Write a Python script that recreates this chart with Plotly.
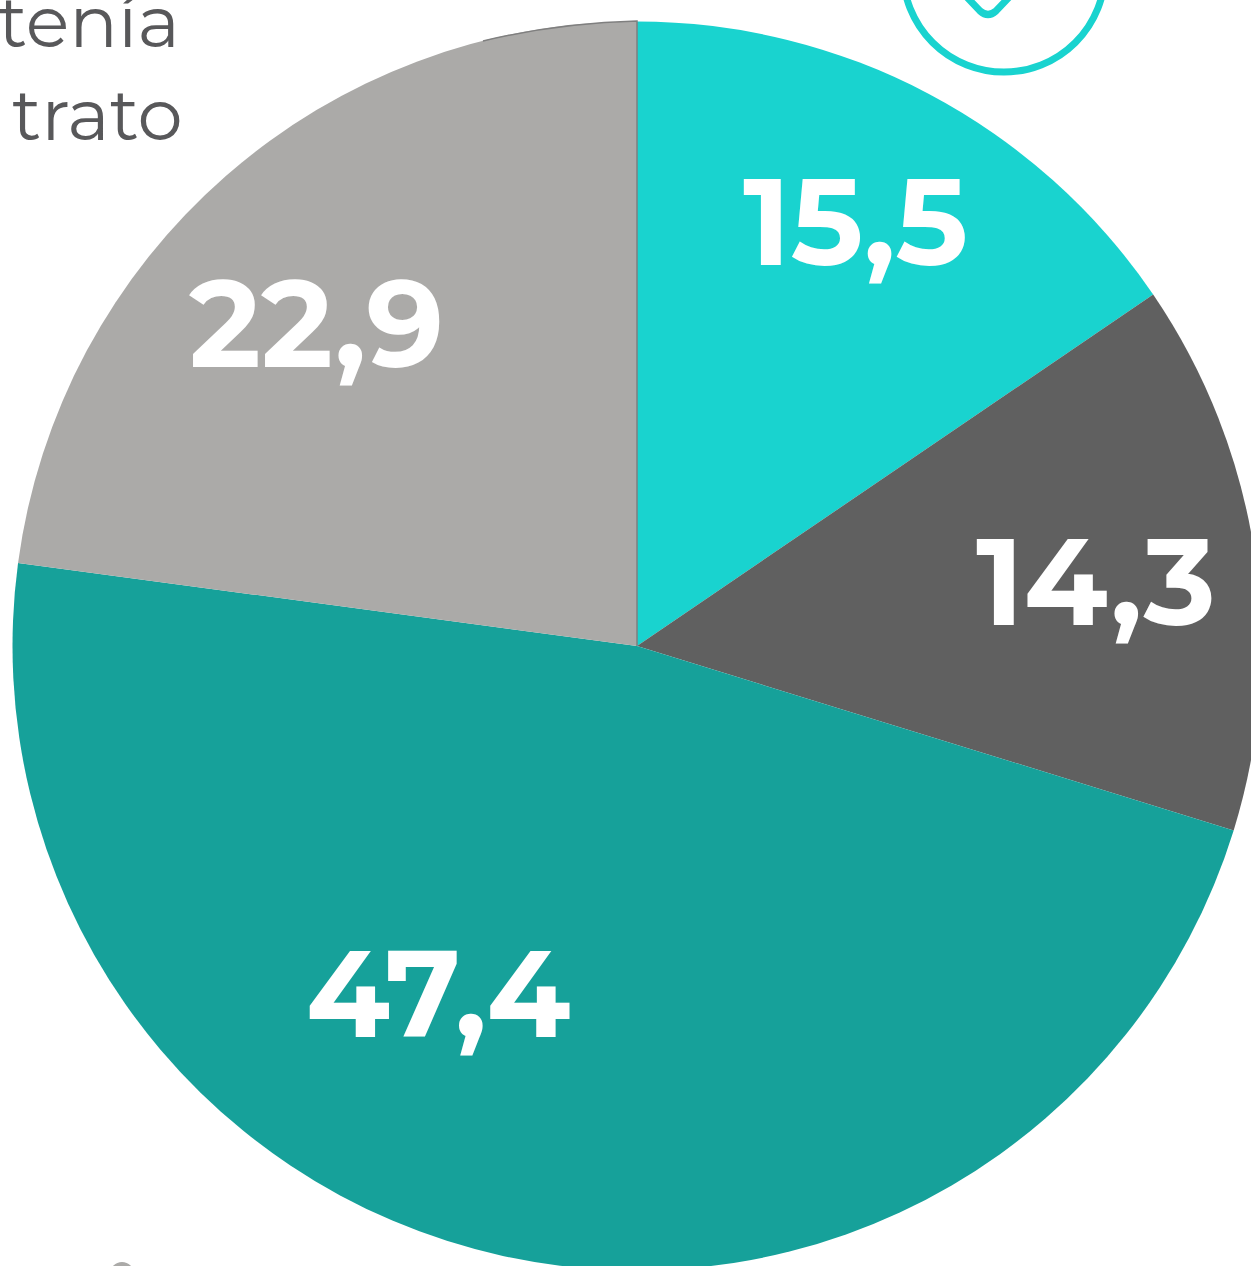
import plotly.graph_objects as go

labels = ["Segmento 1", "Segmento 2", "Segmento 3", "Segmento 4"]
values = [15.5, 14.3, 47.4, 22.9]
texts = ["15,5", "14,3", "47,4", "22,9"]
colors = ["#19D3CF", "#606060", "#16A19A", "#ABAAA8"]
fragments = ["tenía", "trato"]

# The pie runs past the window's right and bottom edges, so the canvas is
# larger than the window and the page clips it.
W, H = 1300, 1300
cx, cy, r = 637, 646, 624.5
TEAL = "#19D3CF"
GREY = "#58585A"

def px(x):
    return x / W

def py(y):
    return 1 - y / H

fig = go.Figure(go.Pie(
    labels=labels, values=values, sort=False, direction="clockwise", rotation=0,
    marker=dict(colors=colors, line=dict(width=0)),
    text=texts, textinfo="none", showlegend=False, hoverinfo="label+text",
    domain=dict(x=[px(cx - r), px(cx + r)], y=[py(cy + r), py(cy - r)]),
))

value_pos = [(855, 221), (1096, 581), (438, 993), (316, 323)]
anns = [dict(text=t, x=px(x), y=py(y), xref="paper", yref="paper", showarrow=False,
             xanchor="center", yanchor="middle",
             font=dict(family="Montserrat, Lato, Open Sans", size=122, color="white", weight=700))
        for t, (x, y) in zip(texts, value_pos)]
for t, x, y in zip(fragments, [182, 185], [21, 114]):
    anns.append(dict(text=t, x=px(x), y=py(y), xref="paper", yref="paper", showarrow=False,
                     xanchor="right", yanchor="middle",
                     font=dict(family="Montserrat, Lato", size=72, color=GREY, weight=400)))

def p(x, y):
    return f"{px(x):.5f},{py(y):.5f}"

shapes = [
    dict(type="circle", xref="paper", yref="paper", x0=px(903), x1=px(1105), y0=py(72), y1=py(-130),
         line=dict(color=TEAL, width=7), fillcolor="white"),
    dict(type="path", xref="paper", yref="paper",
         path=f"M {p(962, -8)} L {p(980, 11)} Q {p(988, 18)} {p(996, 11)} L {p(1014, -8)}",
         line=dict(color=TEAL, width=7)),
    dict(type="path", xref="paper", yref="paper",
         path=f"M {p(483, 41)} Q {p(558, 23)} {p(637, 21)} L {p(637, 646)}",
         line=dict(color="#7F7F7F", width=1.5)),
    dict(type="circle", xref="paper", yref="paper", x0=px(110), x1=px(134), y0=py(1286), y1=py(1262),
         line=dict(width=0), fillcolor="#ABAAA8"),
]

fig.update_layout(width=W, height=H, margin=dict(l=0, r=0, t=0, b=0), paper_bgcolor="white",
                  annotations=anns, shapes=shapes)
fig.write_html("out.html", config=dict(displayModeBar=False), post_script=(
    "document.documentElement.style.overflow='hidden';"
    "document.body.style.overflow='hidden';document.body.style.margin='0';"))
